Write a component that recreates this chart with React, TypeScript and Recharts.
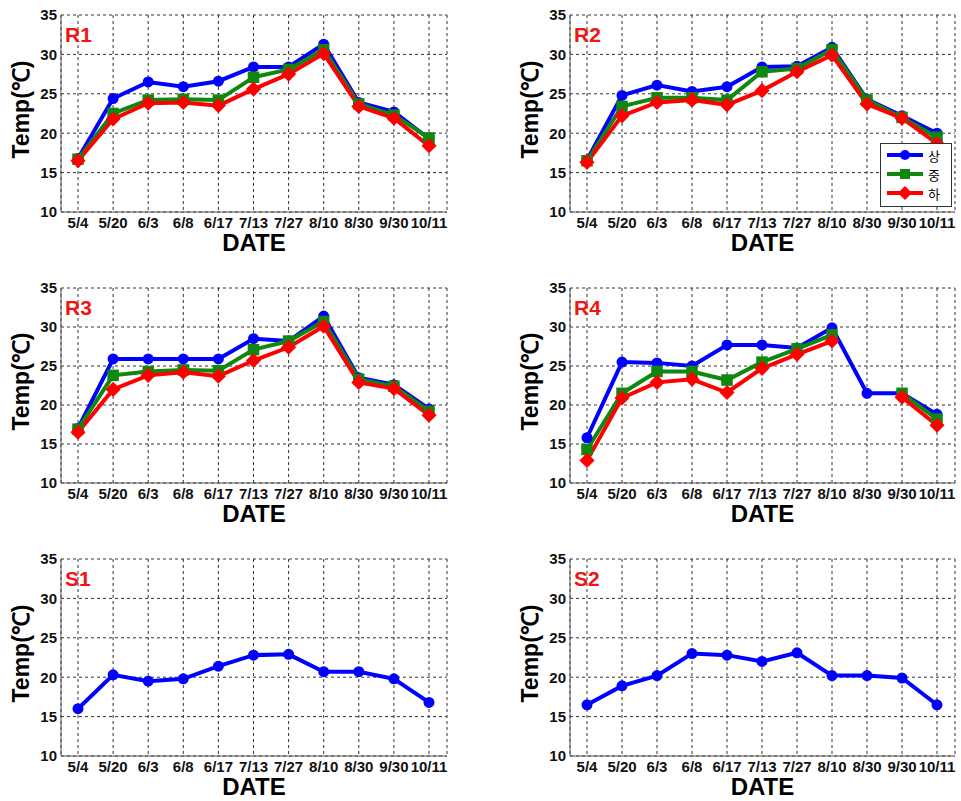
import { LineChart, Line, XAxis, YAxis, CartesianGrid, Legend, Label } from "recharts";

const DATES = ["5/4", "5/20", "6/3", "6/8", "6/17", "7/13", "7/27", "8/10", "8/30", "9/30", "10/11"];
const Y_TICKS = [10, 15, 20, 25, 30, 35];
const LEVELS = ["상", "중", "하"];

// 상 / 중 / 하 per site
const R1_UP = [16.8, 24.4, 26.5, 25.9, 26.6, 28.4, 28.4, 31.3, 23.9, 22.7, 19.3];
const R1_MID = [16.7, 22.5, 24.2, 24.3, 24.2, 27.1, 28.1, 30.6, 23.7, 22.3, 19.4];
const R1_LOW = [16.5, 21.8, 23.8, 23.9, 23.5, 25.6, 27.5, 30.1, 23.4, 21.9, 18.4];

const R2_UP = [16.6, 24.8, 26.1, 25.3, 25.9, 28.4, 28.5, 30.9, 24.3, 22.2, 20.0];
const R2_MID = [16.5, 23.4, 24.5, 24.5, 24.2, 27.8, 28.2, 30.6, 24.2, 22.0, 19.5];
const R2_LOW = [16.3, 22.2, 23.9, 24.2, 23.6, 25.4, 27.8, 29.9, 23.7, 21.9, 18.7];

const R3_UP = [17.0, 25.9, 25.9, 25.9, 25.9, 28.5, 28.2, 31.4, 23.5, 22.6, 19.5];
const R3_MID = [16.9, 23.8, 24.3, 24.5, 24.4, 27.1, 28.2, 30.7, 23.3, 22.4, 19.2];
const R3_LOW = [16.5, 22.0, 23.8, 24.2, 23.7, 25.7, 27.4, 30.1, 22.9, 22.1, 18.7];

const R4_UP = [15.8, 25.5, 25.4, 25.0, 27.7, 27.7, 27.3, 29.9, 21.5, 21.5, 18.8];
const R4_MID = [14.3, 21.5, 24.3, 24.3, 23.2, 25.5, 27.2, 29.0, null, 21.5, 18.2];
const R4_LOW = [12.9, 20.9, 22.9, 23.3, 21.6, 24.7, 26.5, 28.2, null, 21.0, 17.4];

const S1_UP = [16.0, 20.3, 19.5, 19.8, 21.4, 22.8, 22.9, 20.7, 20.7, 19.8, 16.8];
const S2_UP = [16.5, 18.9, 20.2, 23.0, 22.8, 22.0, 23.1, 20.2, 20.2, 19.9, 16.5];

const BLUE = "#0000ff";
const GREEN = "#0e880e";
const RED = "#ff0000";
const FONT = "'Liberation Sans', Arial, Helvetica, sans-serif";

const circleDot = (p: any) =>
  p.cx == null || p.cy == null ? (
    <g key={"c" + p.index} />
  ) : (
    <circle key={"c" + p.index} cx={p.cx} cy={p.cy} r={4.5} fill={BLUE} stroke={BLUE} strokeWidth={2} />
  );

const squareDot = (p: any) =>
  p.cx == null || p.cy == null ? (
    <g key={"s" + p.index} />
  ) : (
    <rect key={"s" + p.index} x={p.cx - 5} y={p.cy - 5} width={10} height={10} fill={GREEN} stroke={GREEN} strokeWidth={1.5} />
  );

const diamondDot = (p: any) =>
  p.cx == null || p.cy == null ? (
    <g key={"d" + p.index} />
  ) : (
    <polygon
      key={"d" + p.index}
      points={`${p.cx},${p.cy - 6.5} ${p.cx + 6.5},${p.cy} ${p.cx},${p.cy + 6.5} ${p.cx - 6.5},${p.cy}`}
      fill={RED}
      stroke={RED}
      strokeWidth={1.5}
    />
  );

function LegendBox() {
  const rows = [
    { color: BLUE, mark: "circle" },
    { color: GREEN, mark: "square" },
    { color: RED, mark: "diamond" },
  ];
  return (
    <svg width={72} height={64} style={{ display: "block" }}>
      <rect x={0.5} y={0.5} width={71} height={63} fill="#fff" stroke="#333" />
      {rows.map((r, i) => {
        const y = 12 + i * 19;
        return (
          <g key={i}>
            <line x1={7} x2={43} y1={y} y2={y} stroke={r.color} strokeWidth={4} />
            {r.mark === "circle" && <circle cx={25} cy={y} r={5} fill={r.color} />}
            {r.mark === "square" && <rect x={20} y={y - 5} width={10} height={10} fill={r.color} />}
            {r.mark === "diamond" && (
              <polygon points={`25,${y - 7} 32,${y} 25,${y + 7} 18,${y}`} fill={r.color} />
            )}
            <text x={48} y={y} dominantBaseline="central" fontSize={13} fontFamily="'Noto Sans CJK KR', sans-serif" fill="#000">
              {LEVELS[i]}
            </text>
          </g>
        );
      })}
    </svg>
  );
}

interface PanelProps {
  title: string;
  up: (number | null)[];
  mid?: (number | null)[];
  low?: (number | null)[];
  right: boolean;
  height: number;
  legend?: boolean;
}

function TempChart({ title, up, mid, low, right, height, legend }: PanelProps) {
  const data = DATES.map((date, i) => ({
    date,
    up: up[i],
    mid: mid ? mid[i] : null,
    low: low ? low[i] : null,
  }));
  const tickStyle = { fontSize: 15, fontWeight: 700, fill: "#111", fontFamily: FONT };

  return (
    <LineChart
      width={480}
      height={height}
      data={data}
      margin={{ top: 15, right: right ? 5 : 33, bottom: 0, left: right ? 29 : 0 }}
    >
      <CartesianGrid strokeDasharray="3 3" stroke="#333" />
      <XAxis
        dataKey="date"
        interval={0}
        height={46}
        padding={{ left: 17, right: 18 }}
        tick={tickStyle}
        tickLine={false}
        tickSize={0}
        tickMargin={5}
        axisLine={{ stroke: "#555" }}
      >
        <Label
          content={(p: any) => (
            <text
              x={p.viewBox.x + p.viewBox.width / 2}
              y={p.viewBox.y + 39}
              textAnchor="middle"
              fontSize={24}
              fontWeight={700}
              fontFamily={FONT}
              fill="#000"
            >
              DATE
            </text>
          )}
        />
      </XAxis>
      <XAxis
        xAxisId="top"
        orientation="top"
        dataKey="date"
        height={0}
        padding={{ left: 17, right: 18 }}
        tick={false}
        tickLine={false}
        axisLine={{ stroke: "#555" }}
      />
      <YAxis
        type="number"
        domain={[10, 35]}
        ticks={Y_TICKS}
        width={61}
        allowDataOverflow
        tick={tickStyle}
        tickLine={false}
        tickSize={0}
        tickMargin={4}
        axisLine={{ stroke: "#555" }}
      >
        <Label
          content={(p: any) => {
            const cx = p.viewBox.x + 21;
            const cy = p.viewBox.y + p.viewBox.height / 2 - 4;
            return (
              <g>
                <text
                  x={cx}
                  y={cy}
                  transform={`rotate(-90, ${cx}, ${cy})`}
                  textAnchor="middle"
                  dominantBaseline="central"
                  fontSize={23}
                  fontWeight={700}
                  fontFamily={FONT}
                  fill="#000"
                >
                  Temp(℃)
                </text>
                <text
                  x={p.viewBox.x + p.viewBox.width + 4}
                  y={p.viewBox.y + 27}
                  fontSize={21}
                  fontWeight={700}
                  fontFamily={FONT}
                  fill="#f01414"
                >
                  {title}
                </text>
              </g>
            );
          }}
        />
      </YAxis>
      <YAxis
        yAxisId="right"
        orientation="right"
        type="number"
        domain={[10, 35]}
        width={0}
        tick={false}
        tickLine={false}
        axisLine={{ stroke: "#555" }}
      />
      <Line dataKey="up" stroke={BLUE} strokeWidth={4} dot={circleDot} activeDot={false} isAnimationActive={false} />
      {mid && (
        <Line dataKey="mid" stroke={GREEN} strokeWidth={4} dot={squareDot} activeDot={false} isAnimationActive={false} />
      )}
      {low && (
        <Line dataKey="low" stroke={RED} strokeWidth={4} dot={diamondDot} activeDot={false} isAnimationActive={false} />
      )}
      {legend && (
        <Legend
          layout="vertical"
          align="center"
          verticalAlign="middle"
          content={() => <LegendBox />}
          wrapperStyle={{ position: "absolute", left: 400, top: 143, width: 72, height: 64 }}
        />
      )}
    </LineChart>
  );
}

export default function App() {
  const cell = (left: number, top: number) => ({ position: "absolute" as const, left, top });
  return (
    <div style={{ position: "absolute", left: 0, top: 0, width: 961, height: 801, background: "#fff", overflow: "hidden" }}>
      <div style={cell(0, 0)}>
        <TempChart title="R1" up={R1_UP} mid={R1_MID} low={R1_LOW} right={false} height={258} />
      </div>
      <div style={cell(480, 0)}>
        <TempChart title="R2" up={R2_UP} mid={R2_MID} low={R2_LOW} right height={258} legend />
      </div>
      <div style={cell(0, 273)}>
        <TempChart title="R3" up={R3_UP} mid={R3_MID} low={R3_LOW} right={false} height={256} />
      </div>
      <div style={cell(480, 273)}>
        <TempChart title="R4" up={R4_UP} mid={R4_MID} low={R4_LOW} right height={256} />
      </div>
      <div style={cell(0, 544)}>
        <TempChart title="S1" up={S1_UP} right={false} height={258} />
      </div>
      <div style={cell(480, 544)}>
        <TempChart title="S2" up={S2_UP} right height={258} />
      </div>
    </div>
  );
}
